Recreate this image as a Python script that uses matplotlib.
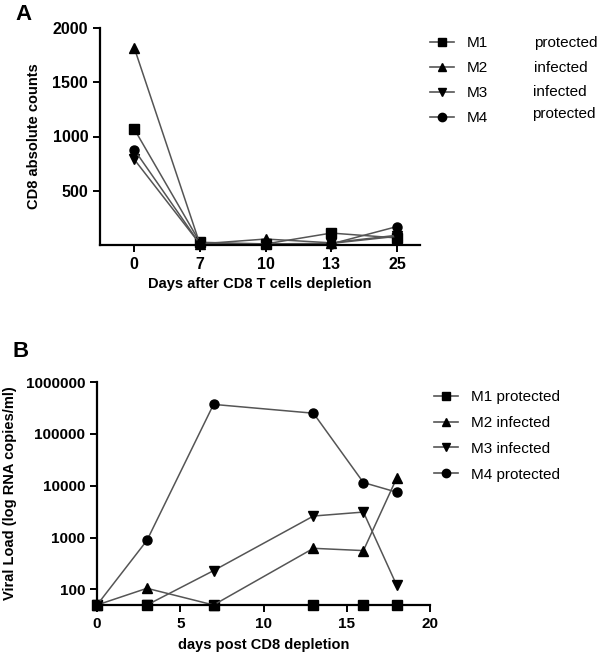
import numpy as np
import matplotlib.pyplot as plt
from matplotlib.lines import Line2D

plt.rcParams['font.family'] = ['Liberation Sans', 'DejaVu Sans']

# panel A: CD8 absolute counts
days_a = ['0', '7', '10', '13', '25']
m1_a = [1070, 25, 10, 110, 65]
m2_a = [1820, 10, 55, 20, 90]
m3_a = [790, 10, 10, 15, 80]
m4_a = [880, 10, 10, 10, 170]

# panel B: viral load
days_b = [0, 3, 7, 13, 16, 18]
m1_b = [50, 50, 50, 50, 50, 50]
m2_b = [50, 105, 50, 620, 560, 14000]
m3_b = [50, 50, 230, 2600, 3100, 120]
m4_b = [50, 880, 370000, 250000, 11500, 7500]

names = ['M1', 'M2', 'M3', 'M4']
status_a = ['protected', 'infected', 'infected', 'protected']
markers = ['s', '^', 'v', 'o']
LINE_C = '#555555'


def style_axes(ax, size):
    for s in ['top', 'right']:
        ax.spines[s].set_visible(False)
    for s in ['left', 'bottom']:
        ax.spines[s].set_linewidth(1.6)
    ax.tick_params(direction='out', length=5, width=1.4, labelsize=size)
    for lab in ax.get_xticklabels() + ax.get_yticklabels():
        lab.set_fontweight('bold')


def handles():
    return [Line2D([], [], color=LINE_C, lw=1.2, marker=m, markersize=6,
                   markerfacecolor='black', markeredgecolor='black') for m in markers]


def main():
    fig = plt.figure(figsize=(6.0, 6.56), dpi=100)

    # ---- A ----
    ax = fig.add_axes([100 / 600, 1 - 245 / 656, 320 / 600, 217 / 656])
    x = np.arange(len(days_a))
    for vals, mk in zip([m1_a, m2_a, m3_a, m4_a], markers):
        ax.plot(x, vals, color=LINE_C, lw=1.1, marker=mk, markersize=6.5,
                markerfacecolor='black', markeredgecolor='black', clip_on=False)
    ax.set_xlim(-0.52, 4.35)
    ax.set_ylim(0, 2000)
    ax.set_xticks(x)
    ax.set_xticklabels(days_a)
    ax.set_yticks([500, 1000, 1500, 2000])
    style_axes(ax, 11.5)
    ax.set_xlabel('Days after CD8 T cells depletion', fontsize=10.5,
                  fontweight='bold', labelpad=4)
    ax.set_ylabel('CD8 absolute counts', fontsize=10.5, fontweight='bold', labelpad=8)

    fig.legend(handles(), names, loc='upper left', bbox_to_anchor=(430 / 600, 1 - 36 / 656),
               bbox_transform=fig.transFigure, frameon=False, fontsize=11,
               borderpad=0, borderaxespad=0, handlelength=1.6, handletextpad=0.8,
               labelspacing=0.72)
    for i, (st, xx) in enumerate(zip(status_a, [534, 534, 533, 532])):
        yy = [43, 68, 92, 114][i]
        fig.text(xx / 600, 1 - yy / 656, st, fontsize=11, va='center', ha='left')

    fig.text(15 / 600, 1 - 20 / 656, 'A', fontsize=16, fontweight='bold')

    # ---- B ----
    bx = fig.add_axes([97 / 600, 1 - 605 / 656, 333 / 600, 223 / 656])
    for vals, mk in zip([m1_b, m2_b, m3_b, m4_b], markers):
        bx.plot(days_b, vals, color=LINE_C, lw=1.1, marker=mk, markersize=6.5,
                markerfacecolor='black', markeredgecolor='black', clip_on=False)
    bx.set_yscale('log')
    bx.set_xlim(0, 20)
    bx.set_ylim(50, 1000000)
    bx.set_xticks([0, 5, 10, 15, 20])
    bx.set_yticks([100, 1000, 10000, 100000, 1000000])
    bx.set_yticklabels(['100', '1000', '10000', '100000', '1000000'])
    bx.yaxis.set_minor_locator(plt.NullLocator())
    style_axes(bx, 11)
    bx.set_xlabel('days post CD8 depletion', fontsize=10.5, fontweight='bold', labelpad=5)
    bx.set_ylabel('Viral Load (log RNA copies/ml)', fontsize=10.5, fontweight='bold',
                  labelpad=6)

    labels_b = [n + ' ' + s for n, s in zip(names, status_a)]
    fig.legend(handles(), labels_b, loc='upper left', bbox_to_anchor=(434 / 600, 1 - 390 / 656),
               bbox_transform=fig.transFigure, frameon=False, fontsize=11,
               borderpad=0, borderaxespad=0, handlelength=1.6, handletextpad=0.8,
               labelspacing=0.78)

    fig.text(13 / 600, 1 - 357 / 656, 'B', fontsize=16, fontweight='bold')

    plt.savefig('out.png', dpi=100)


if __name__ == '__main__':
    main()
